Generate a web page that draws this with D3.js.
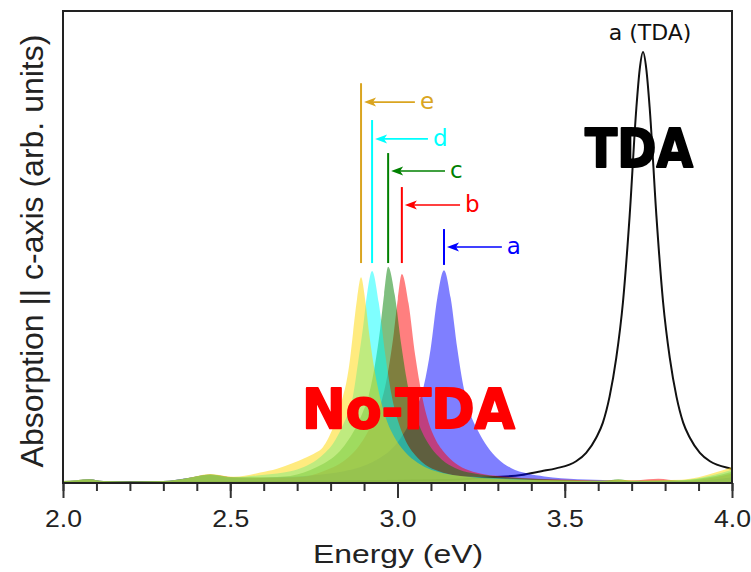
<!DOCTYPE html>
<html><head><meta charset="utf-8">
<script src="https://cdn.jsdelivr.net/npm/d3@7"></script>
<style>body{margin:0;background:#fff}</style>
</head><body>
<svg id="chart" width="751" height="572"></svg>
<script>
// ---- data ----
const energyA = [2.00,2.04,2.08,2.12,2.20,2.30,2.37,2.44,2.50,2.56,2.639,2.739,2.839,2.889,2.939,2.979,3.009,3.039,3.059,3.079,3.099,3.119,3.139,3.159,3.179,3.199,3.219,3.239,3.269,3.299,3.339,3.389,3.439,3.539,3.639,3.70,3.78,3.85,3.90,3.95,4.00];
const absA    = [.004,.005,.008,.004,.003,.004,.010,.017,.011,.010,.012,.016,.025,.034,.050,.070,.095,.131,.162,.207,.284,.392,.451,.392,.284,.198,.144,.113,.077,.052,.032,.020,.014,.008,.006,.004,.005,.004,.005,.008,.012];
const energyB = [2.00,2.04,2.08,2.12,2.20,2.30,2.37,2.44,2.51,2.64,2.72,2.76,2.80,2.836,2.869,2.896,2.92,2.936,2.953,2.974,2.989,3.001,3.013,3.033,3.053,3.073,3.093,3.113,3.143,3.173,3.213,3.263,3.313,3.413,3.513,3.60,3.66,3.72,3.78,3.84,3.90,3.95,4.00];
const absB    = [.004,.006,.008,.004,.003,.004,.010,.018,.012,.011,.013,.020,.031,.045,.065,.090,.120,.145,.175,.245,.318,.390,.443,.381,.270,.186,.128,.093,.062,.042,.027,.018,.014,.009,.007,.005,.005,.006,.009,.005,.007,.012,.020];
const energyC = [2.00,2.04,2.08,2.12,2.20,2.30,2.37,2.44,2.51,2.60,2.679,2.72,2.759,2.795,2.828,2.855,2.879,2.895,2.912,2.933,2.948,2.960,2.972,2.992,3.012,3.032,3.052,3.072,3.102,3.132,3.172,3.222,3.272,3.372,3.47,3.55,3.62,3.66,3.70,3.78,3.85,3.90,3.95,4.00];
const absC    = [.004,.006,.008,.004,.003,.004,.010,.018,.012,.012,.015,.022,.034,.048,.068,.093,.123,.148,.180,.252,.325,.400,.458,.398,.289,.202,.147,.110,.073,.050,.032,.021,.016,.010,.007,.005,.005,.008,.005,.005,.006,.009,.015,.024];
const energyD = [2.00,2.04,2.08,2.12,2.20,2.30,2.37,2.44,2.51,2.58,2.64,2.68,2.72,2.759,2.785,2.807,2.822,2.837,2.853,2.867,2.882,2.897,2.91,2.924,2.944,2.964,2.984,3.004,3.024,3.054,3.084,3.124,3.174,3.224,3.324,3.42,3.50,3.60,3.66,3.72,3.78,3.85,3.90,3.95,4.00];
const absD    = [.004,.006,.008,.004,.003,.004,.010,.018,.012,.016,.020,.025,.034,.049,.065,.083,.101,.123,.150,.185,.255,.330,.405,.449,.382,.269,.180,.126,.090,.058,.038,.025,.016,.013,.009,.006,.005,.004,.005,.004,.005,.006,.010,.018,.028];
const energyE = [2.00,2.04,2.08,2.12,2.20,2.30,2.37,2.44,2.51,2.59,2.64,2.68,2.73,2.755,2.777,2.792,2.807,2.822,2.837,2.847,2.858,2.867,2.879,2.891,2.903,2.915,2.93,2.95,2.97,2.99,3.02,3.05,3.09,3.14,3.19,3.29,3.39,3.50,3.60,3.66,3.72,3.78,3.85,3.90,3.95,4.00];
const absE    = [.004,.006,.008,.004,.003,.004,.010,.019,.013,.022,.030,.040,.055,.064,.076,.093,.117,.148,.184,.213,.262,.318,.390,.436,.390,.318,.245,.175,.128,.098,.068,.048,.031,.020,.015,.009,.007,.006,.005,.007,.005,.006,.007,.012,.022,.034];
const energyTDA = [2.00,2.50,2.80,3.00,3.10,3.20,3.28,3.37,3.43,3.474,3.534,3.564,3.594,3.614,3.634,3.654,3.674,3.694,3.714,3.724,3.734,3.744,3.754,3.774,3.794,3.814,3.834,3.854,3.874,3.904,3.934,3.994,4.00];
const absTDA    = [.001,.002,.003,.005,.006,.008,.012,.017,.025,.031,.046,.064,.096,.128,.183,.265,.383,.566,.794,.876,.913,.876,.794,.566,.383,.265,.183,.128,.096,.064,.046,.031,.030];

const markerLabels = ["a","b","c","d","e"];
const markerEnergy = [3.139, 3.013, 2.972, 2.924, 2.891];
const markerTop    = [0.538, 0.627, 0.699, 0.769, 0.847];
const markerBottom = [0.462, 0.466, 0.466, 0.466, 0.466];
const arrowLevel   = [0.500, 0.589, 0.661, 0.729, 0.807];
const arrowTail    = [3.312, 3.187, 3.142, 3.091, 3.052];

const xTicks = [2.0, 2.5, 3.0, 3.5, 4.0];

// ---- styling ----
const fillColors = ["#0000ff","#ff0000","#008000","#00ffff","#ffd700"];
const lineColors = ["#0000ff","#ff0000","#008000","#00ffff","#daa520"];
const series = [
  {e: energyA, v: absA}, {e: energyB, v: absB}, {e: energyC, v: absC},
  {e: energyD, v: absD}, {e: energyE, v: absE}
];

const svg = d3.select("#chart");
const x = d3.scaleLinear().domain([2, 4]).range([63, 732]);
const y = d3.scaleLinear().domain([0, 1]).range([483, 11]);

svg.append("clipPath").attr("id","clip").append("rect")
  .attr("x",63).attr("y",11).attr("width",669).attr("height",472);
const plot = svg.append("g").attr("clip-path","url(#clip)");

// TDA line (below fills)
const line = d3.line().x(d=>x(d[0])).y(d=>y(d[1])).curve(d3.curveMonotoneX);
plot.append("path")
  .datum(energyTDA.map((e,i)=>[e,absTDA[i]]))
  .attr("d", line).attr("fill","none").attr("stroke","#111").attr("stroke-width",2);

const area = d3.area().x(d=>x(d[0])).y0(y(0)).y1(d=>y(d[1])).curve(d3.curveMonotoneX);
series.forEach((s,i)=>{
  plot.append("path")
    .datum(s.e.map((e,j)=>[e,s.v[j]]))
    .attr("d", area).attr("fill", fillColors[i]).attr("fill-opacity",0.5).attr("stroke","none");
});

// markers, arrows, labels
markerLabels.forEach((lab,i)=>{
  const c = lineColors[i];
  const xe = x(markerEnergy[i]);
  svg.append("line").attr("x1",xe).attr("x2",xe)
    .attr("y1",y(markerTop[i])).attr("y2",y(markerBottom[i]))
    .attr("stroke",c).attr("stroke-width",2);
  const ya = y(arrowLevel[i]);
  const tip = xe + 3;
  const xt = x(arrowTail[i]);
  svg.append("line").attr("x1",xt).attr("x2",tip+8).attr("y1",ya).attr("y2",ya)
    .attr("stroke",c).attr("stroke-width",1.6);
  svg.append("path")
    .attr("d",`M${tip},${ya} L${tip+12},${ya-4.5} L${tip+9},${ya} L${tip+12},${ya+4.5} Z`)
    .attr("fill",c);
  svg.append("text").attr("x",xt+5).attr("y",ya+7)
    .attr("font-family","DejaVu Sans").attr("font-size",23).attr("fill",c).text(lab);
});

svg.append("text").attr("x",650).attr("y",40).attr("text-anchor","middle")
  .attr("font-family","DejaVu Sans").attr("font-size",22).attr("fill","#111").text("a (TDA)");

svg.append("text").attr("x",585).attr("y",167)
  .attr("font-family","DejaVu Sans").attr("font-weight","bold").attr("font-size",54)
  .attr("textLength",108).attr("lengthAdjust","spacingAndGlyphs")
  .attr("fill","#000").attr("stroke","#000").attr("stroke-width",2).attr("stroke-linejoin","round")
  .text("TDA");

svg.append("text").attr("x",302).attr("y",428)
  .attr("font-family","DejaVu Sans").attr("font-weight","bold").attr("font-size",56)
  .attr("textLength",213).attr("lengthAdjust","spacingAndGlyphs")
  .attr("fill","#ff0000").attr("stroke","#ff0000").attr("stroke-width",2).attr("stroke-linejoin","round")
  .text("No-TDA");

// axes
const minor = svg.append("g").attr("transform","translate(0,483)")
  .call(d3.axisBottom(x).tickValues(d3.range(0,21).map(k=>2+k*0.1)).tickSize(8).tickFormat(""));
minor.select(".domain").remove();
minor.selectAll("line").attr("stroke","#333").attr("stroke-width",2);

const major = svg.append("g").attr("transform","translate(0,483)")
  .call(d3.axisBottom(x).tickValues(xTicks).tickSize(15).tickFormat(d3.format(".1f")));
major.select(".domain").remove();
major.selectAll("line").attr("stroke","#333").attr("stroke-width",2);
major.selectAll("text").attr("y",44).attr("dy",0)
  .attr("font-family","Liberation Sans").attr("font-size",24).attr("fill","#222")
  .attr("textLength",37).attr("lengthAdjust","spacingAndGlyphs");

// frame
svg.append("rect").attr("x",63).attr("y",11).attr("width",669).attr("height",472)
  .attr("fill","none").attr("stroke","#222").attr("stroke-width",2);

svg.append("text").attr("x",398).attr("y",563).attr("text-anchor","middle")
  .attr("font-family","Liberation Sans").attr("font-size",25.5).attr("fill","#222")
  .attr("textLength",170).attr("lengthAdjust","spacingAndGlyphs")
  .text("Energy (eV)");

svg.append("text").attr("transform","translate(43,251) rotate(-90)").attr("text-anchor","middle")
  .attr("font-family","Liberation Sans").attr("font-size",32).attr("fill","#222")
  .text("Absorption || c-axis (arb. units)");
</script>
</body></html>
